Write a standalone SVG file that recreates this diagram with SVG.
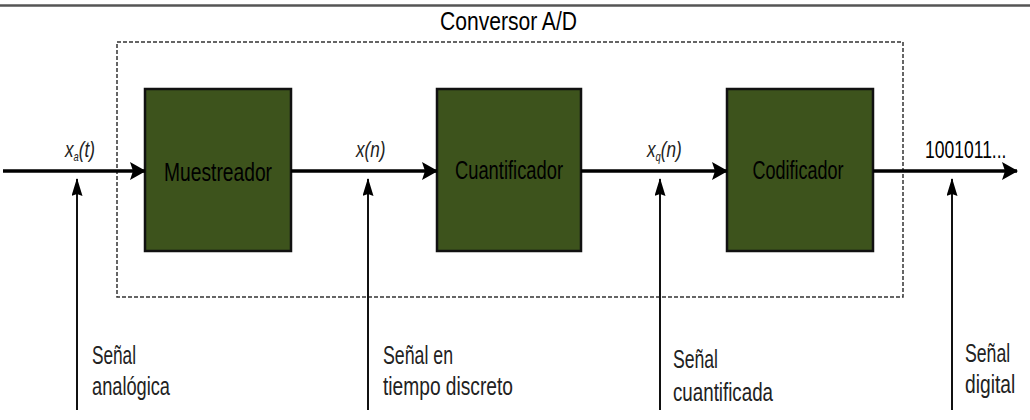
<svg xmlns="http://www.w3.org/2000/svg" width="1030" height="420" viewBox="0 0 1030 420">
<style>
text{font-family:"Liberation Sans Narrow","Liberation Sans",sans-serif;fill:#000}
.box{fill:#3d531c;stroke:#111;stroke-width:2.5}
.bt{font-size:26px;text-anchor:middle}
.lbl{font-size:26px;fill:#222}
.sig{font-size:22px;font-style:italic;fill:#222}
.sub{font-size:12px}
.main{stroke:#000;stroke-width:3.5;fill:none}
.vert{stroke:#111;stroke-width:2;fill:none}
</style>
<defs>
<marker id="ah" viewBox="0 0 16 18" refX="15" refY="9" markerWidth="16" markerHeight="18" markerUnits="userSpaceOnUse" orient="auto">
<path d="M0,0 L16,9 L0,18 L3,9 Z" fill="#000"/>
</marker>
<marker id="av" viewBox="0 0 18 11" refX="17" refY="5.5" markerWidth="18" markerHeight="11" markerUnits="userSpaceOnUse" orient="auto">
<path d="M0,0 L18,5.5 L0,11 L2,5.5 Z" fill="#000"/>
</marker>
</defs>
<rect width="1030" height="420" fill="#fff"/>
<line x1="0" y1="5.5" x2="1030" y2="5.5" stroke="#555" stroke-width="2.5"/>
<g id="conversor">
<rect x="117" y="42" width="786" height="255" fill="none" stroke="#333" stroke-width="1.5" stroke-dasharray="4,2"/>
<text x="440" y="30" font-size="26" fill="#222" textLength="137" lengthAdjust="spacingAndGlyphs">Conversor A/D</text>
</g>
<g id="muestreador">
<rect class="box" x="145" y="89" width="146" height="162"/>
<text class="bt" x="218" y="181" textLength="108" lengthAdjust="spacingAndGlyphs">Muestreador</text>
</g>
<g id="cuantificador">
<rect class="box" x="437" y="89" width="144" height="162"/>
<text class="bt" x="509" y="179" textLength="108" lengthAdjust="spacingAndGlyphs">Cuantificador</text>
</g>
<g id="codificador">
<rect class="box" x="727" y="89" width="146" height="162"/>
<text class="bt" x="798" y="179" textLength="91" lengthAdjust="spacingAndGlyphs">Codificador</text>
</g>
<g id="connectors">
<line class="main" x1="3" y1="171" x2="145" y2="171" marker-end="url(#ah)"/>
<line class="main" x1="291" y1="171" x2="437" y2="171" marker-end="url(#ah)"/>
<line class="main" x1="581" y1="171" x2="727" y2="171" marker-end="url(#ah)"/>
<line class="main" x1="873" y1="171" x2="1017" y2="171" marker-end="url(#ah)"/>
<line class="vert" x1="77" y1="410" x2="77" y2="179" marker-end="url(#av)"/>
<line class="vert" x1="368" y1="410" x2="368" y2="179" marker-end="url(#av)"/>
<line class="vert" x1="660" y1="410" x2="660" y2="179" marker-end="url(#av)"/>
<line class="vert" x1="952" y1="410" x2="952" y2="179" marker-end="url(#av)"/>
</g>
<g id="signal-labels">
<text class="sig" transform="translate(65,157) scale(0.78,1)">x<tspan class="sub" dy="4">a</tspan><tspan dy="-4">(t)</tspan></text>
<text class="sig" transform="translate(356,157) scale(0.78,1)">x(n)</text>
<text class="sig" transform="translate(647,157) scale(0.78,1)">x<tspan class="sub" dy="4">q</tspan><tspan dy="-4">(n)</tspan></text>
<text font-size="24" fill="#222" transform="translate(925,158) scale(0.73,1)">1001011...</text>
</g>
<g id="bottom-labels">
<text class="lbl" x="92" y="364" textLength="44" lengthAdjust="spacingAndGlyphs">Señal</text>
<text class="lbl" x="92" y="395" textLength="78" lengthAdjust="spacingAndGlyphs">analógica</text>
<text class="lbl" x="383" y="364" textLength="70" lengthAdjust="spacingAndGlyphs">Señal en</text>
<text class="lbl" x="383" y="395" textLength="130" lengthAdjust="spacingAndGlyphs">tiempo discreto</text>
<text class="lbl" x="673" y="368" textLength="45" lengthAdjust="spacingAndGlyphs">Señal</text>
<text class="lbl" x="673" y="401" textLength="100" lengthAdjust="spacingAndGlyphs">cuantificada</text>
<text class="lbl" transform="translate(965,362) scale(0.68,1)">Señal</text>
<text class="lbl" transform="translate(965,393) scale(0.74,1)">digital</text>
</g>
</svg>
